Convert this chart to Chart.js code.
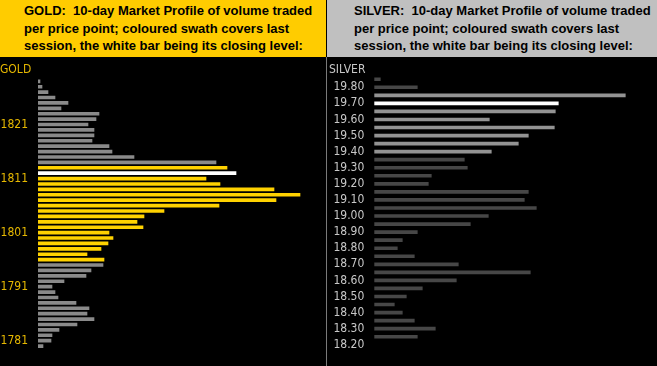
<!DOCTYPE html>
<html>
<head>
<meta charset="utf-8">
<script src="https://cdn.jsdelivr.net/npm/chart.js@4.4.1/dist/chart.umd.min.js"></script>
<style>
	body { margin: 0; background: #000; width: 657px; height: 366px; overflow: hidden; position: relative; }
	.head { position: absolute; top: 0; height: 57px; font: bold 13px Arial, "Liberation Sans", sans-serif; line-height: 17.5px; color: #000; white-space: nowrap; box-sizing: border-box; padding-top: 2px; }
	#head-gold { left: 0; width: 326px; background: #ffcc00; padding-left: 24px; }
	#head-silver { left: 327px; width: 330px; background: #c0c0c0; padding-left: 27px; }
	#sep { position: absolute; left: 326px; top: 57px; width: 1px; height: 309px; background: #7a7a7a; }
	.box { position: absolute; top: 58px; height: 308px; }
	#box-gold { left: 0; width: 326px; }
	#box-silver { left: 327px; width: 330px; }
	.lbl { position: absolute; top: 62px; font: 12px "Liberation Sans Narrow", "Arial Narrow", "DejaVu Sans Condensed", sans-serif; }
</style>
</head>
<body>
<div class="head" id="head-gold">GOLD:&nbsp; 10-day Market Profile of volume traded<br>per price point; coloured swath covers last<br>session, the white bar being its closing level:</div>
<div class="head" id="head-silver">SILVER:&nbsp; 10-day Market Profile of volume traded<br>per price point; coloured swath covers last<br>session, the white bar being its closing level:</div>
<div id="sep"></div>
<div class="box" id="box-gold"><canvas id="chart-gold"></canvas></div>
<div class="box" id="box-silver"><canvas id="chart-silver"></canvas></div>
<div class="lbl" style="left:0;color:#e6b800">GOLD</div>
<div class="lbl" style="left:329px;color:#c8c8c8">SILVER</div>
<script>
// gold: price points top to bottom, volume traded at each
const goldPrices = [1829, 1828, 1827, 1826, 1825, 1824, 1823, 1822, 1821, 1820,
	1819, 1818, 1817, 1816, 1815, 1814, 1813, 1812, 1811, 1810,
	1809, 1808, 1807, 1806, 1805, 1804, 1803, 1802, 1801, 1800,
	1799, 1798, 1797, 1796, 1795, 1794, 1793, 1792, 1791, 1790,
	1789, 1788, 1787, 1786, 1785, 1784, 1783, 1782, 1781, 1780];
const goldVolume = [2, 4, 10, 17, 30, 23, 61, 58, 50, 56,
	56, 54, 71, 74, 96, 178, 189, 198, 168, 182,
	236, 262, 238, 181, 126, 106, 99, 105, 71, 75,
	70, 63, 49, 66, 65, 53, 48, 26, 14, 17,
	20, 38, 51, 49, 56, 39, 21, 14, 13, 5];
const goldSession = [1796, 1813];
const goldClose = 1812;
const goldTicks = [1821, 1811, 1801, 1791, 1781];

// silver
const silverPrices = ['19.85', '19.80', '19.75', '19.70', '19.65', '19.60', '19.55', '19.50', '19.45', '19.40',
	'19.35', '19.30', '19.25', '19.20', '19.15', '19.10', '19.05', '19.00', '18.95', '18.90',
	'18.85', '18.80', '18.75', '18.70', '18.65', '18.60', '18.55', '18.50', '18.45', '18.40',
	'18.35', '18.30', '18.25', '18.20'];
const silverVolume = [6, 43, 251, 184, 181, 115, 180, 154, 144, 117,
	90, 93, 57, 54, 154, 150, 162, 114, 96, 43,
	28, 23, 40, 84, 156, 82, 48, 32, 20, 28,
	40, 61, 43, null];
const silverSession = [19.40, 19.75];
const silverClose = 19.70;
const silverTicks = ['19.80', '19.70', '19.60', '19.50', '19.40', '19.30', '19.20', '19.10', '19.00',
	'18.90', '18.80', '18.70', '18.60', '18.50', '18.40', '18.30', '18.20'];

const narrow = '"Liberation Sans Narrow", "Arial Narrow", "DejaVu Sans Condensed", sans-serif';

function makeChart(id, labels, data, colors, ticks, tickColor, axisW, pad, xMax) {
	const ctx = document.getElementById(id).getContext('2d');
	return new Chart(ctx, {
		type: 'bar',
		data: {
			labels: labels,
			datasets: [{
				data: data,
				backgroundColor: colors,
				barThickness: 3,
				borderWidth: 0
			}]
		},
		options: {
			indexAxis: 'y',
			responsive: true,
			maintainAspectRatio: false,
			animation: false,
			layout: { padding: pad },
			plugins: {
				legend: { display: false },
				tooltip: { enabled: false }
			},
			scales: {
				x: { display: false, min: 0, max: xMax },
				y: {
					grid: { display: false, drawTicks: false },
					border: { display: false },
					afterFit: function(s) { s.width = axisW; },
					ticks: {
						autoSkip: false,
						padding: 10,
						color: tickColor,
						font: { family: narrow, size: 12 },
						callback: function(v) {
							const l = String(this.getLabelForValue(v));
							return ticks.map(String).indexOf(l) >= 0 ? l : '';
						}
					}
				}
			}
		}
	});
}

const goldColors = goldPrices.map(p => p == goldClose ? '#ffffff'
	: (p >= goldSession[0] && p <= goldSession[1] ? '#ffd200' : '#8a8a8a'));
const silverColors = silverPrices.map(p => {
	const v = parseFloat(p);
	if (Math.abs(v - silverClose) < 0.001) return '#ffffff';
	if (v >= silverSession[0] - 0.001 && v <= silverSession[1] + 0.001) return '#939393';
	return '#474747';
});

window.chartGold = makeChart('chart-gold', goldPrices, goldVolume, goldColors, goldTicks, '#e6b800',
	38, { top: 20.6, bottom: 16.3, left: 0, right: 6 }, 282);
window.chartSilver = makeChart('chart-silver', silverPrices, silverVolume, silverColors, silverTicks, '#c8c8c8',
	47.3, { top: 16.5, bottom: 9.2, left: 0, right: 6 }, 276.7);
</script>
</body>
</html>
